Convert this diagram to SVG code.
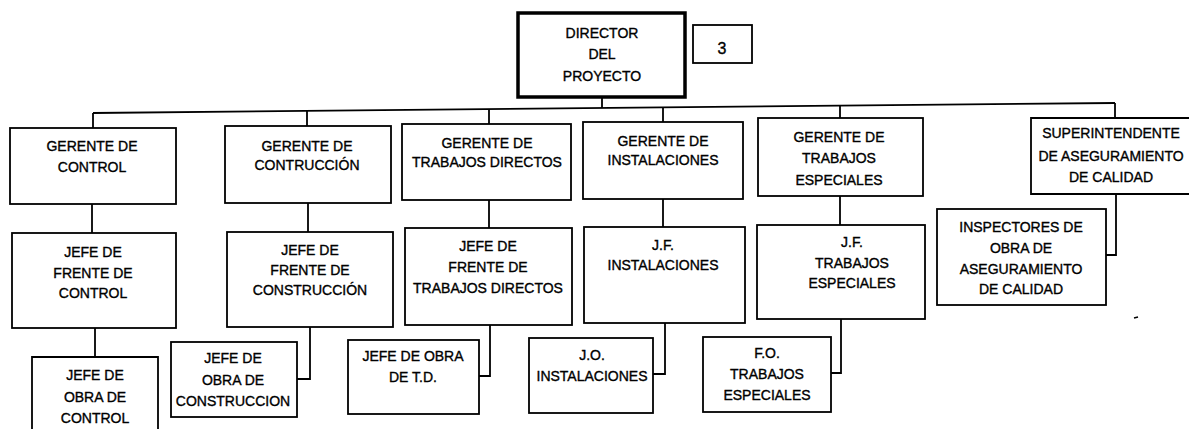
<svg xmlns="http://www.w3.org/2000/svg" width="1189" height="429" viewBox="0 0 1189 429">
<style>
.box{fill:#fff;stroke:#000;stroke-width:1.8}
.thick{fill:#fff;stroke:#000;stroke-width:3.5}
.ln{fill:none;stroke:#000;stroke-width:1.8}
text{font-family:"Liberation Sans",Arial,sans-serif;font-size:14px;fill:#000;stroke:#000;stroke-width:0.35;text-anchor:middle}
</style>
<rect width="1189" height="429" fill="#fff"/>
<g id="connectors">
<line class="ln" x1="93" y1="113" x2="1115" y2="103"/>
<line class="ln" x1="602" y1="97" x2="602" y2="108"/>
<line class="ln" x1="93" y1="113" x2="93" y2="128"/>
<line class="ln" x1="307" y1="111" x2="307" y2="126"/>
<line class="ln" x1="489" y1="109" x2="489" y2="124"/>
<line class="ln" x1="663" y1="107.5" x2="663" y2="122"/>
<line class="ln" x1="840" y1="105.7" x2="840" y2="118"/>
<line class="ln" x1="1115" y1="103" x2="1115" y2="118"/>
<line class="ln" x1="92" y1="204" x2="92" y2="233"/>
<line class="ln" x1="308" y1="203" x2="308" y2="232"/>
<line class="ln" x1="489" y1="200" x2="489" y2="228"/>
<line class="ln" x1="663" y1="199" x2="663" y2="227"/>
<line class="ln" x1="840" y1="196" x2="840" y2="225"/>
<polyline class="ln" points="1116,194 1116,255 1106,255"/>
<line class="ln" x1="95" y1="328" x2="95" y2="357"/>
<polyline class="ln" points="310,327 310,379 297,379"/>
<polyline class="ln" points="490,325 490,376 479,376"/>
<polyline class="ln" points="665,323 665,374 653,374"/>
<polyline class="ln" points="841,319 841,373 831,373"/>
<line class="ln" x1="1134" y1="318" x2="1138" y2="317"/>
</g>
<g id="director">
<rect class="thick" x="518" y="13" width="167" height="84"/>
<text x="602" y="38">DIRECTOR</text>
<text x="602" y="59">DEL</text>
<text x="602" y="81">PROYECTO</text>
</g>
<g id="num3">
<rect class="box" x="693" y="25" width="59" height="38"/>
<text x="722" y="54" style="font-size:16px">3</text>
</g>
<g id="g-control">
<rect class="box" x="10" y="128" width="166" height="76"/>
<text x="92" y="151">GERENTE DE</text>
<text x="92" y="172">CONTROL</text>
</g>
<g id="g-construccion">
<rect class="box" x="225" y="126" width="166" height="77"/>
<text x="307" y="151">GERENTE DE</text>
<text x="307" y="170">CONTRUCCIÓN</text>
</g>
<g id="g-trabajos-directos">
<rect class="box" x="402" y="124" width="169" height="76"/>
<text x="487" y="148">GERENTE DE</text>
<text x="487" y="167">TRABAJOS DIRECTOS</text>
</g>
<g id="g-instalaciones">
<rect class="box" x="583" y="122" width="160" height="77"/>
<text x="663" y="146">GERENTE DE</text>
<text x="663" y="165">INSTALACIONES</text>
</g>
<g id="g-trabajos-especiales">
<rect class="box" x="758" y="118" width="165" height="78"/>
<text x="839" y="142">GERENTE DE</text>
<text x="839" y="163">TRABAJOS</text>
<text x="839" y="185">ESPECIALES</text>
</g>
<g id="superintendente">
<path class="box" d="M1189,118 H1031 V194 H1189"/>
<text x="1111" y="138">SUPERINTENDENTE</text>
<text x="1111" y="161">DE ASEGURAMIENTO</text>
<text x="1111" y="182">DE CALIDAD</text>
</g>
<g id="inspectores">
<rect class="box" x="937" y="209" width="169" height="96"/>
<text x="1021" y="232">INSPECTORES DE</text>
<text x="1021" y="253">OBRA DE</text>
<text x="1021" y="274">ASEGURAMIENTO</text>
<text x="1021" y="294">DE CALIDAD</text>
</g>
<g id="jf-control">
<rect class="box" x="12" y="233" width="164" height="95"/>
<text x="93" y="257">JEFE DE</text>
<text x="93" y="278">FRENTE DE</text>
<text x="93" y="298">CONTROL</text>
</g>
<g id="jo-control">
<path class="box" d="M32,430 V357 H158 V430"/>
<text x="95" y="380">JEFE DE</text>
<text x="95" y="402">OBRA DE</text>
<text x="95" y="423">CONTROL</text>
</g>
<g id="jf-construccion">
<rect class="box" x="227" y="232" width="166" height="95"/>
<text x="310" y="255">JEFE DE</text>
<text x="310" y="275">FRENTE DE</text>
<text x="310" y="295">CONSTRUCCIÓN</text>
</g>
<g id="jo-construccion">
<rect class="box" x="171" y="342" width="126" height="75"/>
<text x="233" y="363">JEFE DE</text>
<text x="233" y="385">OBRA DE</text>
<text x="233" y="406">CONSTRUCCION</text>
</g>
<g id="jf-trabajos-directos">
<rect class="box" x="405" y="228" width="167" height="97"/>
<text x="488" y="251">JEFE DE</text>
<text x="488" y="272">FRENTE DE</text>
<text x="488" y="293">TRABAJOS DIRECTOS</text>
</g>
<g id="jo-td">
<rect class="box" x="348" y="340" width="131" height="74"/>
<text x="413" y="361">JEFE DE OBRA</text>
<text x="413" y="382">DE T.D.</text>
</g>
<g id="jf-instalaciones">
<rect class="box" x="584" y="227" width="161" height="96"/>
<text x="663" y="250">J.F.</text>
<text x="663" y="270">INSTALACIONES</text>
</g>
<g id="jo-instalaciones">
<rect class="box" x="529" y="338" width="124" height="75"/>
<text x="592" y="360">J.O.</text>
<text x="592" y="381">INSTALACIONES</text>
</g>
<g id="jf-trabajos-especiales">
<rect class="box" x="757" y="225" width="168" height="94"/>
<text x="852" y="247">J.F.</text>
<text x="852" y="268">TRABAJOS</text>
<text x="852" y="288">ESPECIALES</text>
</g>
<g id="fo-trabajos-especiales">
<rect class="box" x="703" y="337" width="128" height="75"/>
<text x="767" y="358">F.O.</text>
<text x="767" y="379">TRABAJOS</text>
<text x="767" y="400">ESPECIALES</text>
</g>
</svg>
